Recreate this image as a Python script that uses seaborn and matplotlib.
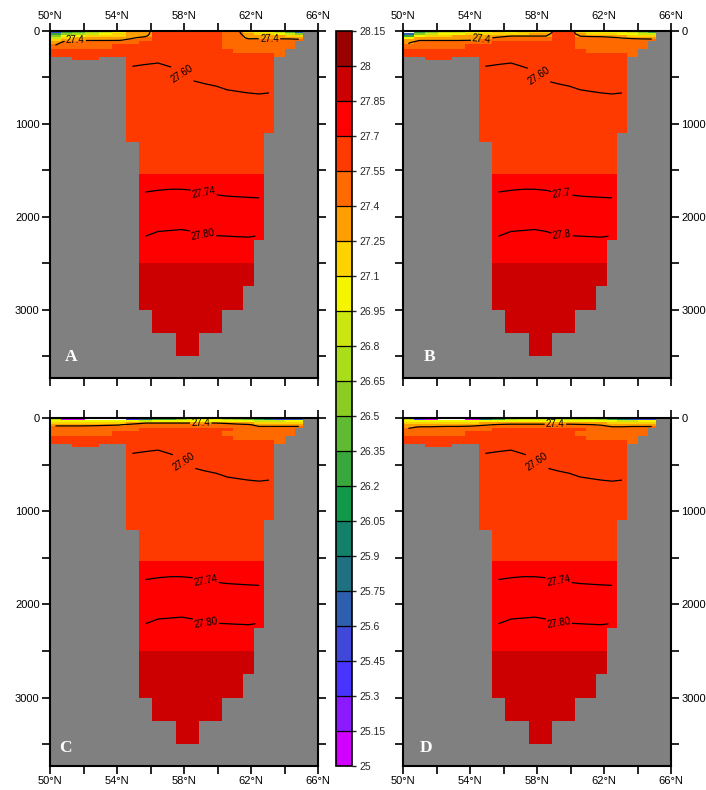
import numpy as np
import matplotlib
matplotlib.use("Agg")
import matplotlib.pyplot as plt
from matplotlib.colors import ListedColormap, BoundaryNorm
import seaborn as sns

nan = np.nan

# ---------------- data ----------------
lat_edges = [50.0, 50.65, 51.3, 52.1, 52.9, 53.7, 54.54, 55.3, 56.1, 56.8, 57.5, 58.2,
             58.9, 59.6, 60.27, 60.9, 61.5, 62.18, 62.78, 63.37, 64.0, 64.6, 65.1]
depth_edges = [0, 20, 40, 60, 85, 110, 140, 190, 240, 280, 315, 500, 700, 900, 1100,
               1200, 1540, 2000, 2250, 2500, 2750, 3000, 3250, 3500]
# sea floor depth of each latitude column
column_bottom = [280, 280, 315, 315, 280, 280, 1200, 3000, 3250, 3250, 3500, 3500,
                 3250, 3250, 3000, 3000, 2750, 2250, 1100, 280, 190, 110]

# upper 140 m (rows 0-20, 20-40, 40-60, 60-85, 85-110, 110-140) for each panel
surface_A = [
    [25.5, 26.3, 26.4, 26.7, 26.9, 27.0, 27.3, 27.3, 27.58, 27.58, 27.58, 27.58, 27.58, 27.58, 27.5, 27.45, 27.2, 27.05, 27.0, 26.9, 26.4, 25.7],
    [26.3, 26.6, 26.7, 26.9, 27.0, 27.1, 27.32, 27.32, 27.58, 27.58, 27.58, 27.58, 27.58, 27.58, 27.5, 27.47, 27.25, 27.15, 27.1, 27.05, 26.8, 26.5],
    [26.5, 26.95, 27.0, 27.1, 27.15, 27.2, 27.35, 27.36, 27.57, 27.57, 27.57, 27.57, 27.57, 27.57, 27.5, 27.48, 27.32, 27.3, 27.28, 27.25, 27.2, 27.1],
    [26.9, 27.2, 27.25, 27.3, 27.32, 27.34, 27.38, 27.45, 27.56, 27.56, 27.56, 27.56, 27.56, 27.56, 27.5, 27.49, 27.36, 27.36, 27.36, 27.35, 27.35, 27.3],
    [27.1, 27.38, 27.38, 27.38, 27.38, 27.38, 27.45, 27.5, 27.56, 27.56, 27.56, 27.56, 27.56, 27.56, 27.5, 27.5, 27.45, 27.46, 27.46, 27.46, 27.45, 27.45],
    [27.3, 27.5, 27.5, 27.5, 27.5, 27.52, 27.54, 27.56, 27.57, 27.57, 27.57, 27.57, 27.57, 27.57, 27.5, 27.5, 27.5, 27.5, 27.5, 27.5, 27.5, nan],
]
surface_B = [
    [24.9, 26.3, 26.5, 26.8, 26.9, 27.0, 27.05, 27.1, 27.05, 27.1, 27.15, 27.2, 27.58, 27.58, 27.2, 27.05, 27.0, 27.0, 26.95, 26.8, 26.6, 26.3],
    [25.6, 26.6, 26.8, 27.0, 27.05, 27.1, 27.15, 27.2, 27.2, 27.22, 27.25, 27.3, 27.58, 27.58, 27.25, 27.15, 27.1, 27.1, 27.05, 27.0, 26.9, 26.8],
    [26.3, 27.0, 27.1, 27.2, 27.25, 27.28, 27.3, 27.35, 27.39, 27.39, 27.39, 27.39, 27.57, 27.57, 27.38, 27.37, 27.36, 27.33, 27.25, 27.2, 27.2, 27.15],
    [27.0, 27.3, 27.32, 27.33, 27.34, 27.35, 27.37, 27.42, 27.44, 27.44, 27.44, 27.44, 27.56, 27.56, 27.45, 27.44, 27.44, 27.42, 27.39, 27.37, 27.36, 27.35],
    [27.3, 27.38, 27.38, 27.38, 27.38, 27.39, 27.44, 27.5, 27.5, 27.52, 27.52, 27.52, 27.56, 27.56, 27.5, 27.5, 27.5, 27.48, 27.46, 27.45, 27.44, 27.44],
    [27.38, 27.5, 27.5, 27.5, 27.5, 27.52, 27.54, 27.55, 27.56, 27.56, 27.56, 27.56, 27.56, 27.56, 27.52, 27.5, 27.5, 27.5, 27.5, 27.5, 27.5, nan],
]
surface_C = [
    [26.9, 25.1, 25.1, 24.9, 24.9, 24.9, 25.4, 25.8, 26.2, 26.3, 26.6, 26.8, 27.0, 27.0, 26.7, 26.6, 26.4, 26.2, 25.9, 25.5, 25.5, 25.6],
    [27.05, 26.95, 27.0, 27.0, 27.0, 27.0, 26.95, 26.9, 26.95, 27.0, 27.0, 27.05, 27.05, 27.05, 27.0, 27.0, 26.95, 26.9, 26.85, 26.9, 26.95, 27.0],
    [27.2, 27.15, 27.2, 27.2, 27.2, 27.22, 27.3, 27.38, 27.38, 27.38, 27.38, 27.38, 27.38, 27.38, 27.35, 27.3, 27.28, 27.2, 27.15, 27.15, 27.15, 27.2],
    [27.37, 27.36, 27.36, 27.37, 27.38, 27.39, 27.45, 27.47, 27.48, 27.48, 27.48, 27.48, 27.48, 27.48, 27.47, 27.45, 27.42, 27.35, 27.35, 27.35, 27.35, 27.35],
    [27.43, 27.44, 27.44, 27.44, 27.45, 27.46, 27.48, 27.5, 27.53, 27.53, 27.53, 27.53, 27.53, 27.52, 27.5, 27.5, 27.48, 27.42, 27.42, 27.42, 27.42, 27.42],
    [27.46, 27.5, 27.5, 27.5, 27.5, 27.52, 27.54, 27.56, 27.57, 27.57, 27.57, 27.57, 27.57, 27.56, 27.55, 27.53, 27.5, 27.5, 27.5, 27.5, 27.5, nan],
]
surface_D = [
    [26.9, 25.4, 25.1, 24.9, 24.9, 25.1, 25.8, 26.2, 26.7, 26.8, 26.8, 26.8, 26.8, 26.7, 26.7, 26.7, 26.5, 26.3, 25.9, 25.6, 25.5, 25.5],
    [27.0, 27.0, 26.95, 27.0, 27.0, 27.0, 26.95, 26.95, 27.0, 27.05, 27.05, 27.05, 27.05, 27.0, 27.0, 27.0, 27.0, 26.95, 26.9, 26.9, 26.95, 27.0],
    [27.2, 27.2, 27.2, 27.2, 27.2, 27.22, 27.25, 27.28, 27.32, 27.32, 27.32, 27.32, 27.32, 27.32, 27.3, 27.28, 27.25, 27.2, 27.18, 27.18, 27.2, 27.2],
    [27.3, 27.33, 27.34, 27.35, 27.35, 27.36, 27.38, 27.42, 27.43, 27.43, 27.43, 27.43, 27.43, 27.43, 27.42, 27.41, 27.38, 27.34, 27.34, 27.34, 27.34, 27.34],
    [27.37, 27.41, 27.41, 27.42, 27.42, 27.43, 27.48, 27.5, 27.52, 27.52, 27.52, 27.52, 27.52, 27.52, 27.5, 27.5, 27.48, 27.41, 27.41, 27.42, 27.42, 27.42],
    [27.43, 27.5, 27.5, 27.5, 27.5, 27.52, 27.54, 27.56, 27.57, 27.57, 27.57, 27.57, 27.57, 27.57, 27.55, 27.53, 27.5, 27.5, 27.5, 27.5, 27.5, nan],
]
# rows 140-190, 190-240, 240-280, 280-315 (same in all panels)
middle_rows = [
    [27.45, 27.52, 27.53, 27.53, 27.52, 27.55, 27.56, 27.57, 27.575, 27.575, 27.575, 27.575, 27.57, 27.57, 27.5, 27.5, 27.5, 27.5, 27.5, 27.5, 27.5, nan],
    [27.56, 27.57, 27.57, 27.57, 27.57, 27.57, 27.57, 27.575, 27.58, 27.58, 27.58, 27.58, 27.575, 27.575, 27.56, 27.52, 27.52, 27.52, 27.52, 27.52, nan, nan],
    [27.58, 27.58, 27.58, 27.58, 27.58, 27.58, 27.57, 27.58, 27.585, 27.58, 27.58, 27.58, 27.58, 27.575, 27.565, 27.56, 27.56, 27.56, 27.56, 27.53, nan, nan],
    [nan, nan, 27.59, 27.59, nan, nan, 27.57, 27.58, 27.585, 27.575, 27.57, 27.57, 27.57, 27.57, 27.57, 27.57, 27.57, 27.57, 27.57, nan, nan, nan],
]
# rows below 315 m, for the deep columns 54.54N - 63.37N (same in all panels)
deep_rows = [
    [27.61, 27.615, 27.62, 27.607, 27.595, 27.59, 27.585, 27.585, 27.583, 27.582, 27.581, 27.58, 27.58],
    [27.62, 27.625, 27.63, 27.625, 27.615, 27.605, 27.603, 27.6005, 27.597, 27.595, 27.594, 27.593, 27.594],
    [27.63, 27.635, 27.64, 27.637, 27.63, 27.625, 27.62, 27.617, 27.615, 27.615, 27.612, 27.611, 27.612],
    [27.64, 27.645, 27.65, 27.648, 27.645, 27.64, 27.635, 27.632, 27.63, 27.63, 27.628, 27.627, 27.628],
    [27.65, 27.655, 27.66, 27.658, 27.655, 27.65, 27.648, 27.645, 27.643, 27.642, 27.64, 27.64, nan],
    [nan, 27.69, 27.69, 27.69, 27.69, 27.69, 27.69, 27.69, 27.685, 27.685, 27.685, 27.685, nan],
    [nan, 27.745, 27.748, 27.75, 27.75, 27.748, 27.743, 27.741, 27.739, 27.738, 27.737, 27.736, nan],
    [nan, 27.79, 27.797, 27.798, 27.799, 27.797, 27.792, 27.791, 27.79, 27.789, 27.788, 27.79, nan],
    [nan, 27.82, 27.82, 27.82, 27.82, 27.82, 27.82, 27.82, 27.82, 27.82, 27.82, nan, nan],
    [nan, 27.87, 27.87, 27.87, 27.87, 27.87, 27.87, 27.87, 27.87, 27.87, 27.87, nan, nan],
    [nan, 27.88, 27.88, 27.88, 27.88, 27.88, 27.88, 27.88, 27.88, 27.88, nan, nan, nan],
    [nan, nan, 27.89, 27.89, 27.89, 27.89, 27.89, 27.89, nan, nan, nan, nan, nan],
    [nan, nan, nan, nan, 27.9, 27.9, nan, nan, nan, nan, nan, nan, nan],
]
deep_first_col = 6

level_labels = ["25", "25.15", "25.3", "25.45", "25.6", "25.75", "25.9", "26.05", "26.2",
                "26.35", "26.5", "26.65", "26.8", "26.95", "27.1", "27.25", "27.4", "27.55",
                "27.7", "27.85", "28", "28.15"]
level_colors = ["#d200ff", "#8c1aff", "#4833ff", "#3f48d8", "#2e5faf", "#1f7080", "#13806a",
                "#11994a", "#39a83c", "#60bb33", "#8bcc22", "#aadd1a", "#cce610", "#f5f500",
                "#ffd300", "#ff9e00", "#ff6a00", "#ff3a00", "#ff0000", "#cc0000", "#990000"]
contour_levels = [27.4, 27.6, 27.74, 27.8]
contour_text = {
    "A": ["27.4", "27.60", "27.74", "27.80"],
    "B": ["27.4", "27.60", "27.7", "27.8"],
    "C": ["27.4", "27.60", "27.74", "27.80"],
    "D": ["27.4", "27.60", "27.74", "27.80"],
}
lat_ticks = [50, 52, 54, 56, 58, 60, 62, 64, 66]
lat_labels = ["50°N", "", "54°N", "", "58°N", "", "62°N", "", "66°N"]
depth_ticks = [0, 500, 1000, 1500, 2000, 2500, 3000, 3500]
depth_labels = ["0", "", "1000", "", "2000", "", "3000", ""]
panel_surface = {"A": surface_A, "B": surface_B, "C": surface_C, "D": surface_D}

# ---------------- layout / style ----------------
W, H = 706, 790
panel_px = {"A": (50, 31, 318, 378), "B": (403, 31, 671, 378),
            "C": (50, 418, 318, 766), "D": (403, 418, 671, 766)}
letter_pos = {"A": (0.078, 0.06), "B": (0.10, 0.06), "C": (0.056, 0.052), "D": (0.086, 0.052)}
label_pos = {
    "A": [(51.5, 100), (63.1, 85), (57.9, 460), (59.2, 1720), (59.2, 2150)],
    "B": [(54.7, 88), (58.1, 480), (59.5, 1720), (59.5, 2150)],
    "C": [(59.0, 55), (58.0, 470), (59.3, 1720), (59.3, 2150)],
    "D": [(59.1, 66), (58.0, 470), (59.3, 1720), (59.3, 2150)],
}

sns.set_theme(style="ticks")
plt.rcParams["font.family"] = ["Liberation Sans", "DejaVu Sans"]
plt.rcParams["axes.linewidth"] = 1.5

cmap = ListedColormap(sns.color_palette(level_colors))
cmap.set_under("white")
cmap.set_bad((0, 0, 0, 0))
levels = [float(s) for s in level_labels]
norm = BoundaryNorm(levels, cmap.N)

lat_c = 0.5 * (np.array(lat_edges[:-1]) + np.array(lat_edges[1:]))
dep_c = 0.5 * (np.array(depth_edges[:-1]) + np.array(depth_edges[1:]))
ncol = len(lat_c)


def build_field(surface):
    rows = [list(r) for r in surface] + [list(r) for r in middle_rows]
    for r in deep_rows:
        full = [nan] * ncol
        full[deep_first_col:deep_first_col + len(r)] = r
        rows.append(full)
    z = np.array(rows, dtype=float)
    tops = np.array(depth_edges[:-1])[:, None]
    z[tops >= np.array(column_bottom)[None, :]] = nan
    return np.ma.masked_invalid(z)


fig = plt.figure(figsize=(W / 100, H / 100), dpi=100)
mesh = None
for name, (x0, y0, x1, y1) in panel_px.items():
    ax = fig.add_axes([x0 / W, 1 - y1 / H, (x1 - x0) / W, (y1 - y0) / H])
    ax.set_facecolor("#808080")
    z = build_field(panel_surface[name])
    mesh = ax.pcolormesh(lat_edges, depth_edges, z, cmap=cmap, norm=norm,
                         shading="flat", antialiased=False, linewidth=0)
    cs = ax.contour(lat_c, dep_c, z, levels=contour_levels, colors="black",
                    linewidths=0.9)
    fmt = dict(zip(cs.levels, contour_text[name]))
    ax.clabel(cs, fmt=fmt, fontsize=7, inline=True, inline_spacing=2,
              manual=label_pos[name])
    ax.set_xlim(50, 66)
    ax.set_ylim(3735, 0)
    ax.set_xticks(lat_ticks)
    ax.set_xticklabels(lat_labels)
    ax.set_yticks(depth_ticks)
    ax.set_yticklabels(depth_labels)
    top_row = name in ("A", "B")
    left_col = name in ("A", "C")
    ax.tick_params(axis="x", top=True, bottom=True, labeltop=top_row,
                   labelbottom=not top_row, direction="out", length=5.5,
                   width=1.2, labelsize=8, pad=2, colors="black")
    ax.tick_params(axis="y", left=True, right=True, labelleft=left_col,
                   labelright=not left_col, direction="out", length=5.5,
                   width=1.2, labelsize=8, pad=2, colors="black")
    for s in ax.spines.values():
        s.set_visible(True)
        s.set_linewidth(1.5)
        s.set_color("black")
    ax.grid(False)
    lx, ly = letter_pos[name]
    ax.text(lx, ly, name, transform=ax.transAxes, color="white", fontsize=12.5,
            fontweight="bold", family=["Liberation Serif", "DejaVu Serif"],
            ha="center", va="center")

cax = fig.add_axes([336 / W, 1 - 766 / H, 16 / W, (766 - 31) / H])
cb = fig.colorbar(mesh, cax=cax, ticks=levels, drawedges=True)
cb.ax.set_yticklabels(level_labels)
cb.ax.tick_params(labelsize=7.5, length=3, width=1, direction="out", pad=2)
cb.outline.set_linewidth(1.2)
cb.outline.set_edgecolor("black")
cb.dividers.set_color("black")
cb.dividers.set_linewidth(0.9)

fig.savefig("out.png", dpi=100)
